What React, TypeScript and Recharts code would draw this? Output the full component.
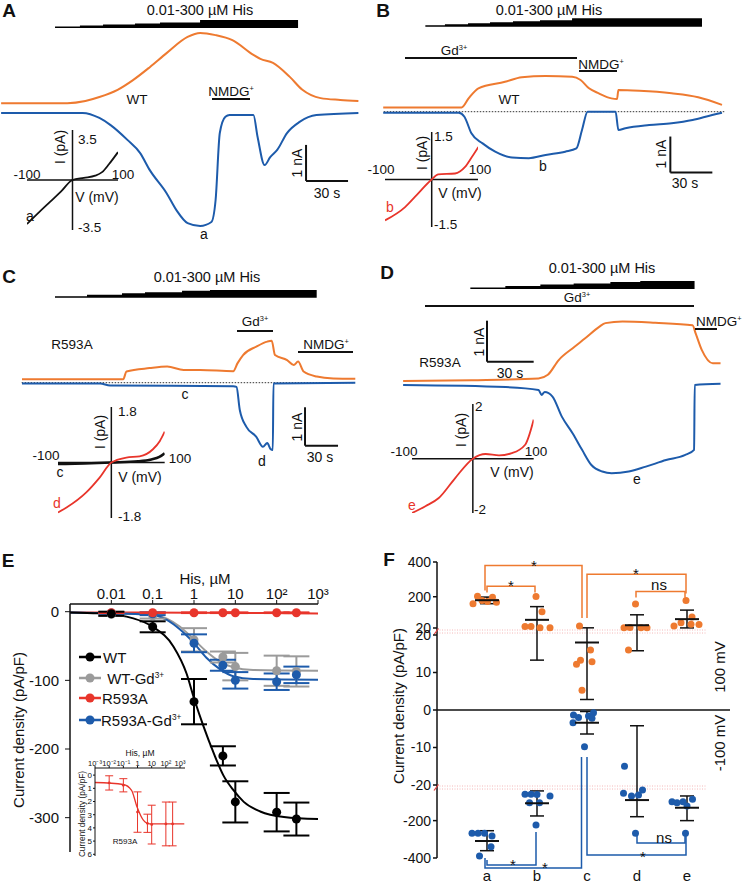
import React from "react";
import {
  ComposedChart,
  LineChart,
  Line,
  Area,
  Scatter,
  XAxis,
  YAxis,
  ReferenceLine,
  ErrorBar,
} from "recharts";

const FONT = '"Liberation Sans", Arial, Helvetica, sans-serif';
const ORANGE = "#ee7a30";
const BLUE = "#1d5bab";
const RED = "#e8352b";
const GRAY = "#9b9b9b";
const INK = "#111";

// ---------- A: WT trace (time s, current nA) ----------
const aOrangeT = [0.8, 48, 61, 71, 84, 95, 107, 119, 134, 143, 154, 166, 181, 186, 195, 207, 216, 229, 243, 256];
const aOrangeI = [0.19, 0.19, 0.25, 0.36, 0.56, 0.83, 1.19, 1.58, 2.03, 2.14, 2.08, 1.94, 1.53, 1.42, 1.31, 0.92, 0.56, 0.33, 0.28, 0.25];
const aBlueT = [0.8, 59, 71, 79, 91, 100, 107, 119, 126, 134, 143, 151, 154, 157, 161, 164, 181, 184, 189, 193, 198, 205, 214, 226, 256];
const aBlueI = [-0.08, -0.08, -0.22, -0.42, -0.83, -1.19, -1.67, -2.31, -2.78, -3.14, -3.22, -3.11, -2.5, -0.64, -0.19, -0.14, -0.14, -0.75, -1.53, -1.31, -1.11, -0.64, -0.33, -0.14, -0.08];
const rampAEdges = [39.3, 57.1, 73.6, 96.4, 114.3, 142.9, 212.9];
const rampALevels = [1.5, 2.5, 3.5, 4.5, 5.5, 8];

// ---------- B: WT + Gd ----------
const bOrangeT = [8, 64, 69, 76, 95, 107, 124, 143, 149, 155, 162, 171, 175, 176, 191, 214, 233, 250];
const bOrangeI = [0.12, 0.12, 0.37, 0.65, 0.83, 0.96, 0.99, 0.97, 0.88, 0.65, 0.51, 0.37, 0.35, 0.6, 0.58, 0.51, 0.4, 0.19];
const bBlueT = [8, 62, 66, 71, 79, 88, 100, 112, 124, 138, 146, 150, 154, 174, 176, 181, 198, 214, 229, 243, 250];
const bBlueI = [-0.03, -0.03, -0.14, -0.6, -0.88, -1.11, -1.27, -1.29, -1.2, -1.11, -1.02, -0.51, 0, 0, -0.51, -0.46, -0.37, -0.32, -0.23, -0.09, -0.03];
const rampBEdges = [38.1, 52.1, 68.6, 84.3, 100.7, 120, 142.9, 235.7];
const rampBLevels = [1.5, 2.5, 3.5, 4.5, 5.5, 6.5, 8.4];

// ---------- C: R593A ----------
const cOrangeT = [20, 112, 115, 136, 152, 167, 182, 212, 216, 221, 233, 243, 247, 250, 261, 267, 271, 276, 288, 303, 323];
const cOrangeI = [0.09, 0.09, 0.29, 0.38, 0.42, 0.33, 0.33, 0.3, 0.51, 0.72, 0.94, 1.07, 1.09, 0.72, 0.59, 0.46, 0.55, 0.29, 0.16, 0.11, 0.1];
const cBlueT = [20, 91, 100, 212, 215, 218, 224, 233, 239, 243, 246, 248, 248.6, 323];
const cBlueI = [-0.02, -0.02, -0.07, -0.09, -0.11, -0.71, -1.15, -1.41, -1.67, -1.57, -1.73, -1.75, -0.02, 0];
const rampCEdges = [50, 79.1, 110.9, 131.8, 165.5, 190.9, 287.9];
const rampCLevels = [1.5, 3, 4.5, 5.5, 7, 7.7];

// ---------- D: R593A + Gd ----------
const dOrangeT = [20, 64, 107, 113, 120, 129, 137, 146, 150, 161, 182, 206, 208, 212, 219, 224];
const dOrangeI = [0.05, 0.07, 0.11, 0.2, 0.56, 0.85, 1.09, 1.37, 1.46, 1.5, 1.47, 1.41, 1.21, 0.8, 0.48, 0.48];
const dBlueT = [20, 86, 107, 109, 111, 116, 122, 129, 135, 141, 148, 154, 165, 176, 189, 201, 207, 207.4, 224];
const dBlueI = [-0.05, -0.1, -0.17, -0.29, -0.22, -0.33, -0.82, -1.23, -1.63, -2, -2.16, -2.2, -2.16, -2.04, -1.88, -1.76, -1.63, -0.05, -0.02];
const rampDEdges = [63.2, 85.7, 108.2, 129.6, 153.2, 172.4, 207.3];
const rampDLevels = [1.5, 3, 4.5, 5.5, 7, 8];

// ---------- I-V insets (mV, pA) ----------
const ivAV = [-100, -75, -50, -25, 0, 25, 50, 65, 80, 100];
const ivAI = [-3.08, -2.3, -1.55, -0.8, 0, 0.15, 0.3, 0.55, 1.1, 1.95];
const ivBV = [-100, -57, -36, 0, 14, 50, 71, 86, 100];
const ivBI = [-1.29, -0.87, -0.55, 0, 0.16, 0.19, 0.39, 0.71, 1.03];
const ivCdV = [-100, -84, -47, -22, 0, 28, 53, 78, 91, 100];
const ivCdI = [-1.62, -1.46, -0.97, -0.49, 0, 0.16, 0.2, 0.43, 0.7, 1.0];
const ivCcV = [-100, -50, 0, 50, 75, 90, 100];
const ivCcI = [-0.05, -0.03, 0, 0.04, 0.1, 0.18, 0.3];
const ivDV = [-100, -78, -56, -29, 0, 21, 43, 64, 86, 100];
const ivDI = [-1.99, -1.74, -1.44, -0.71, 0, 0.17, 0.12, 0.2, 0.51, 1.43];

// ---------- E: dose response ----------
const concE = [0.01, 0.1, 1, 5, 10, 100, 300];
const wtMean = [-3, -22, -131, -210, -277, -292, -302];
const wtErr = [3, 8, 33, 14, 30, 28, 24];
const wtGdMean = [-4, -6, -41, -66, -80, -86, -87];
const wtGdErr = [2, 4, 17, 8, 20, 22, 22];
const mutMean = [-1.5, -1.5, -1.5, -1.5, -1.5, -1.5, -1.5];
const mutErr = [0.5, 0.5, 0.5, 0.5, 0.5, 0.5, 0.5];
const mutGdMean = [-2, -3, -46, -78, -100, -102, -92];
const mutGdErr = [1, 2, 13, 8, 12, 12, 12];
const fitX = [0.001, 0.087, 0.22, 0.46, 0.97, 2, 4.3, 8.9, 27, 1000];
const wtFitX = [0.001, 0.005, 0.034, 0.1, 0.32, 0.66, 1, 1.7, 3, 5.1, 9, 16, 40, 150, 1000];
const wtFitY = [-1, -2.4, -9.7, -22, -51, -90, -126, -167, -206, -238, -260, -277, -291, -299, -302];
const wtGdFitY = [-1, -4, -10, -22, -40, -58, -73, -81, -85, -86];
const mutGdFitY = [-1, -4, -12, -26, -45, -67, -84, -94, -98, -99];
const mutFitX = [0.001, 1, 1000];
const mutFitY = [-1, -1.5, -2.5];
const eTicks = [0.01, 0.1, 1, 10, 100, 1000];
const eTickLabels = ["0.01", "0.1", "1", "10", "10²", "10³"];
const eYTicks = [0, -100, -200, -300];

// inset of E (R593A, pA/pF magnitude)
const insetConc = [0.01, 0.1, 1, 5, 10, 100, 300];
const insetMean = [0.59, 0.77, 2.8, 3.65, 3.75, 3.7, 3.7];
const insetErr = [0.54, 0.5, 1.53, 0.69, 1.47, 1.66, 1.66];
const insetFitX = [0.001, 0.1, 0.38, 0.93, 2.5, 7.4, 2000];
const insetFitY = [0.56, 0.71, 1.15, 2.42, 3.39, 3.7, 3.7];
const insetTicks = [0.001, 0.01, 0.1, 1, 10, 100, 1000];
const insetTickLabels = ["10⁻³", "10⁻²", "10⁻¹", "1", "10", "10²", "10³"];
const insetYTicks = [0, 1, 2, 3, 4, 5, 6];

// ---------- F: current density per condition ----------
const catF = ["a", "b", "c", "d", "e"];
const posVals = [
  [159, 203, 178, 172, 197, 168],
  [28, 28, 201, 22, 114, 22],
  [32, 12.2, 13.3, 5.3, 16, 12.9],
  [158, 22, 23, 22, 21, 16],
  [178, 32, 50, 84, 42, 40],
];
const posOffs = [
  [-0.28, -0.19, -0.1, 0.01, 0.11, 0.19],
  [-0.24, -0.12, -0.02, 0.06, 0.1, 0.26],
  [-0.15, -0.21, -0.13, -0.1, 0.07, 0.1],
  [-0.03, -0.26, -0.14, 0.08, 0.2, -0.17],
  [-0.02, -0.26, -0.12, 0.1, 0.08, 0.24],
];
const posMean = [180, 67, 18, 36, 71];
const posLo = [160, 13.3, 2.8, 15.8, 20.5];
const posHi = [198, 143, 21, 96, 123];
const negVals = [
  [-268, -268, -268, -282, -340, -389],
  [-59, -59, -60, -68, -104, -104, -223],
  [-1.3, -2, -3.4, -1.6, -0.7, -2.2, -9.8],
  [-15, -54, -68, -63, -36, -268],
  [-99, -104, -99, -122, -86, -268],
];
const negOffs = [
  [-0.3, -0.18, -0.05, 0.1, 0.08, -0.15],
  [-0.24, -0.12, 0, 0.26, -0.15, 0.05, -0.02],
  [-0.27, -0.17, -0.28, 0.03, 0.13, 0.1, -0.05],
  [-0.25, -0.27, -0.11, 0.03, 0.11, -0.03],
  [-0.3, -0.2, -0.08, 0, 0.11, -0.03],
];
const negMean = [-309, -107, -3.4, -90, -131];
const negLo = [-361, -175, -6.4, -179, -200];
const negHi = [-254, -41, -0.4, -4.2, -68];
const fTickVals = [400, 200, 21, 20, 10, 0, -10, -20, -200, -400];
const fTickLabels = ["400", "200", "20", "20", "10", "0", "-10", "-20", "-200", "-400"];
// brackets: [x1, x2, bar level, leg1 level, leg2 level]
const posBrackets = [
  [0.96, 2.9, 380, 236, 78],
  [1.0, 1.96, 260, 225, 225],
  [3.0, 4.98, 330, 78, 219],
  [3.98, 4.96, 230, 195, 195],
];
const negBrackets = [
  [0.96, 2.89, -453, -400, -12.5],
  [1.0, 1.98, -437, -411, -261],
  [3.0, 4.98, -384, -12.5, -277],
  [4.0, 4.96, -320, -277, -277],
];

// broken axis: 20..400 compressed, -20..20 expanded, -400..-20 compressed
const fTr = (v: number) =>
  v > 20 ? 82 + (v - 20) * 0.1737 : v >= -20 ? v * 3.75 : -77 + (v + 20) * 0.1868;

const zip = (xs: number[], ys: number[]) => xs.map((x, i) => ({ x, y: ys[i] }));
const steps = (edges: number[], levels: number[]) => [
  ...levels.map((l, i) => ({ x: edges[i], y: l })),
  { x: edges[edges.length - 1], y: levels[levels.length - 1] },
];

const T = ({ x, y, s = 14, c = INK, r = 0, w = "normal", a = "center", children }: any) => (
  <div
    style={{
      position: "absolute",
      left: x,
      top: y,
      transform: `translate(${a === "center" ? "-50%" : a === "left" ? "0" : "-100%"}, -50%) rotate(${r}deg)`,
      fontSize: s,
      color: c,
      fontWeight: w,
      whiteSpace: "nowrap",
      lineHeight: 1,
      fontFamily: FONT,
    }}
  >
    {children}
  </div>
);

const Sup = ({ children }: any) => (
  <sup style={{ fontSize: "0.55em", verticalAlign: "0.7em" }}>{children}</sup>
);

const HBar = ({ x1, x2, y }: any) => (
  <div style={{ position: "absolute", left: x1, top: y - 1, width: x2 - x1, height: 2, background: INK }} />
);

const gA = { left: 0, top: 0, w: 362, h: 250, pxS: 1.4, pxA: 36, zeroY: 110, rampY: 28 };
const gB = { left: 372, top: 0, w: 373, h: 250, pxS: 1.4, pxA: 36, zeroY: 111.7, rampY: 26.7 };
const gC = { left: 0, top: 255, w: 362, h: 230, pxS: 1.1, pxA: 38.4, zeroY: 127.7, rampY: 42.7 };
const gD = { left: 372, top: 255, w: 373, h: 230, pxS: 1.556, pxA: 41, zeroY: 128, rampY: 34 };

function Trace({ g, orange, blue, ramp, dotted, sb }: any) {
  const tMax = g.w / g.pxS;
  const iTop = g.zeroY / g.pxA;
  const iBot = -(g.h - g.zeroY) / g.pxA;
  return (
    <div style={{ position: "absolute", left: g.left, top: g.top }}>
      <ComposedChart width={g.w} height={g.h} margin={{ top: 0, right: 0, bottom: 0, left: 0 }}>
        <XAxis type="number" dataKey="x" domain={[0, tMax]} hide allowDataOverflow />
        <YAxis yAxisId="i" type="number" domain={[iBot, iTop]} hide allowDataOverflow />
        <YAxis yAxisId="r" type="number" domain={[g.rampY - g.h, g.rampY]} hide allowDataOverflow />
        <Area
          yAxisId="r"
          data={ramp}
          dataKey="y"
          type="stepAfter"
          baseValue={0}
          stroke="none"
          fill="#000"
          fillOpacity={1}
          isAnimationActive={false}
        />
        {dotted && (
          <ReferenceLine
            yAxisId="i"
            segment={[{ x: dotted[0], y: 0 }, { x: dotted[1], y: 0 }]}
            stroke="#333"
            strokeDasharray="1.5 1.5"
            strokeWidth={1}
          />
        )}
        <ReferenceLine yAxisId="i" segment={[{ x: sb[0], y: sb[1] }, { x: sb[0], y: sb[1] + 1 }]} stroke={INK} strokeWidth={2} />
        <ReferenceLine yAxisId="i" segment={[{ x: sb[0], y: sb[1] }, { x: sb[0] + 30, y: sb[1] }]} stroke={INK} strokeWidth={2} />
        <Line yAxisId="i" data={orange} dataKey="y" type="monotone" stroke={ORANGE} strokeWidth={2} dot={false} activeDot={false} isAnimationActive={false} />
        <Line yAxisId="i" data={blue} dataKey="y" type="monotone" stroke={BLUE} strokeWidth={2} dot={false} activeDot={false} isAnimationActive={false} />
      </ComposedChart>
    </div>
  );
}

function IV({ left, top, w, h, imax, curves }: any) {
  return (
    <div style={{ position: "absolute", left, top }}>
      <LineChart width={w} height={h} margin={{ top: 0, right: 0, bottom: 0, left: 0 }}>
        <XAxis type="number" dataKey="x" domain={[-100, 100]} hide allowDataOverflow />
        <YAxis type="number" domain={[-imax, imax]} hide allowDataOverflow />
        <ReferenceLine x={0} stroke={INK} strokeWidth={1.5} />
        <ReferenceLine y={0} stroke={INK} strokeWidth={1.5} />
        {curves.map((c: any, k: number) => (
          <Line
            key={k}
            data={c.data}
            dataKey="y"
            type="monotone"
            stroke={c.color}
            strokeWidth={c.w || 1.8}
            dot={false}
            activeDot={false}
            isAnimationActive={false}
          />
        ))}
      </LineChart>
    </div>
  );
}

const dotShape = (color: string, r: number) => (p: any) => <circle cx={p.cx} cy={p.cy} r={r} fill={color} />;

function PanelE() {
  const series = [
    { mean: wtGdMean, err: wtGdErr, color: GRAY },
    { mean: mutGdMean, err: mutGdErr, color: BLUE },
    { mean: mutMean, err: mutErr, color: RED },
    { mean: wtMean, err: wtErr, color: "#000" },
  ];
  const tick = { fontSize: 15, fill: INK, fontFamily: FONT };
  return (
    <>
      <div style={{ position: "absolute", left: 0, top: 560 }}>
        <ComposedChart width={330} height={292} margin={{ top: 0, right: 12, bottom: 0, left: 0 }}>
          <XAxis
            type="number"
            dataKey="x"
            scale="log"
            domain={[0.001, 1000]}
            orientation="top"
            height={44}
            ticks={eTicks}
            interval={0}
            tickFormatter={(v: number, i: number) => eTickLabels[i]}
            tick={tick}
            tickSize={4}
            tickMargin={1}
            axisLine={{ stroke: INK, strokeWidth: 1.5 }}
            tickLine={{ stroke: INK }}
            allowDataOverflow
          />
          <YAxis
            type="number"
            domain={[-350, 11.2]}
            ticks={eYTicks}
            interval={0}
            width={70}
            tick={tick}
            tickSize={5}
            tickMargin={6}
            axisLine={{ stroke: INK, strokeWidth: 1.5 }}
            tickLine={{ stroke: INK }}
            allowDataOverflow
          />
          <Line data={zip(mutFitX, mutFitY)} dataKey="y" type="monotone" stroke={RED} strokeWidth={2} dot={false} activeDot={false} isAnimationActive={false} />
          <Line data={zip(fitX, wtGdFitY)} dataKey="y" type="monotone" stroke={GRAY} strokeWidth={2} dot={false} activeDot={false} isAnimationActive={false} />
          <Line data={zip(fitX, mutGdFitY)} dataKey="y" type="monotone" stroke={BLUE} strokeWidth={2} dot={false} activeDot={false} isAnimationActive={false} />
          <Line data={zip(wtFitX, wtFitY)} dataKey="y" type="monotone" stroke="#000" strokeWidth={2} dot={false} activeDot={false} isAnimationActive={false} />
          {series.map((s, k) => (
            <Scatter
              key={k}
              data={concE.map((x, i) => ({ x, y: s.mean[i], e: s.err[i] }))}
              dataKey="y"
              shape={dotShape(s.color, 4.5)}
              isAnimationActive={false}
            >
              <ErrorBar dataKey="e" direction="y" width={13} stroke={s.color} strokeWidth={2} />
            </Scatter>
          ))}
        </ComposedChart>
      </div>
      <div style={{ position: "absolute", left: 75, top: 756 }}>
        <ComposedChart width={112} height={106} margin={{ top: 0, right: 2, bottom: 6, left: 0 }}>
          <XAxis
            type="number"
            dataKey="x"
            scale="log"
            domain={[0.001, 2240]}
            orientation="top"
            height={12}
            ticks={insetTicks}
            interval={0}
            tickFormatter={(v: number, i: number) => insetTickLabels[i]}
            tick={{ fontSize: 7.5, fill: INK, fontFamily: FONT }}
            tickSize={2}
            tickMargin={0}
            axisLine={{ stroke: INK }}
            tickLine={{ stroke: INK }}
            allowDataOverflow
          />
          <YAxis
            type="number"
            reversed
            domain={[-0.54, 6.13]}
            ticks={insetYTicks}
            interval={0}
            width={20}
            tick={{ fontSize: 8, fill: INK, fontFamily: FONT }}
            tickSize={2}
            tickMargin={1}
            axisLine={{ stroke: INK }}
            tickLine={{ stroke: INK }}
            allowDataOverflow
          />
          <Line data={zip(insetFitX, insetFitY)} dataKey="y" type="monotone" stroke={RED} strokeWidth={1.3} dot={false} activeDot={false} isAnimationActive={false} />
          <Scatter
            data={insetConc.map((x, i) => ({ x, y: insetMean[i], e: insetErr[i] }))}
            dataKey="y"
            shape={dotShape(RED, 1.4)}
            isAnimationActive={false}
          >
            <ErrorBar dataKey="e" direction="y" width={4} stroke={RED} strokeWidth={1} />
          </Scatter>
        </ComposedChart>
      </div>
      <T x={8} y={560} s={19} w="bold">E</T>
      <T x={205} y={578} s={15}>His, µM</T>
      <T x={18} y={730} s={15} r={-90}>Current density (pA/pF)</T>
      <T x={140} y={753} s={8.5}>His, µM</T>
      <T x={82} y={814} s={8.3} r={-90}>Current density (pA/pF)</T>
      <T x={125} y={842} s={8}>R593A</T>
      {[
        { name: "WT", sup: "", c: "#000", tx: 103, y: 657 },
        { name: " WT-Gd", sup: "3+", c: GRAY, tx: 103, y: 678 },
        { name: "R593A", sup: "", c: RED, tx: 102, y: 698 },
        { name: "R593A-Gd", sup: "3+", c: BLUE, tx: 101, y: 720 },
      ].map((l) => (
        <React.Fragment key={l.name}>
          <svg style={{ position: "absolute", left: 79, top: l.y - 6 }} width={22} height={12}>
            <line x1={0} x2={22} y1={6} y2={6} stroke={l.c} strokeWidth={2.5} />
            <circle cx={11} cy={6} r={4.5} fill={l.c} />
          </svg>
          <T x={l.tx} y={l.y} s={15} a="left">
            <span style={{ whiteSpace: "pre" }}>{l.name}</span>
            {l.sup && <Sup>{l.sup}</Sup>}
          </T>
        </React.Fragment>
      ))}
    </>
  );
}

function PanelF() {
  const dots = (vals: number[][], offs: number[][]) =>
    vals.flatMap((row, i) => row.map((v, j) => ({ x: i + 1 + offs[i][j], y: fTr(v) })));
  const means = (m: number[], lo: number[], hi: number[]) =>
    m.map((v, i) => ({ x: i + 1, y: fTr(v), e: [fTr(v) - fTr(lo[i]), fTr(hi[i]) - fTr(v)] }));
  const bracket = (b: number[]) => [
    { x: b[0], y: fTr(b[3]) },
    { x: b[0], y: fTr(b[2]) },
    { x: b[1], y: fTr(b[2]) },
    { x: b[1], y: fTr(b[4]) },
  ];
  const meanShape = (p: any) => (
    <line x1={p.cx - 12} x2={p.cx + 12} y1={p.cy} y2={p.cy} stroke={INK} strokeWidth={2} />
  );
  const tickPos = fTickVals.map((v, i) => (i === 2 ? fTr(v) - 0.17 : fTr(v)));
  const breakLevels = [77, 80, -76, -79];
  return (
    <>
      <div style={{ position: "absolute", left: 392, top: 548 }}>
        <ComposedChart width={353} height={336} margin={{ top: 10, right: 8, bottom: 0, left: 0 }}>
          <XAxis
            type="number"
            dataKey="x"
            domain={[0, 6]}
            ticks={[1, 2, 3, 4, 5]}
            interval={0}
            tickFormatter={(v: number) => catF[v - 1]}
            axisLine={false}
            tickLine={false}
            height={12}
            tickMargin={0}
            tick={{ fontSize: 15, fill: INK, fontFamily: FONT, dy: -8 }}
            allowDataOverflow
          />
          <YAxis
            type="number"
            domain={[-162, 152]}
            ticks={tickPos}
            interval={0}
            tickFormatter={(v: number, i: number) => fTickLabels[i]}
            width={45}
            axisLine={false}
            tickLine={{ stroke: INK, strokeWidth: 1.5 }}
            tickSize={4}
            tickMargin={2}
            tick={{ fontSize: 14, fill: INK, fontFamily: FONT }}
            allowDataOverflow
          />
          {breakLevels.map((b) => (
            <ReferenceLine
              key={b}
              segment={[{ x: 0, y: b }, { x: 5.4, y: b }]}
              stroke="#f4b8b8"
              strokeDasharray="1 1.5"
              strokeWidth={1}
            />
          ))}
          <ReferenceLine segment={[{ x: 0, y: fTr(-400) }, { x: 0, y: fTr(400) }]} stroke={INK} strokeWidth={1.5} />
          <ReferenceLine segment={[{ x: 0, y: 0 }, { x: 5.86, y: 0 }]} stroke={INK} strokeWidth={1.5} />
          {[78.5, -77.5].map((b) => (
            <ReferenceLine
              key={b}
              segment={[{ x: -0.06, y: b - 3 }, { x: 0.03, y: b + 3 }]}
              stroke="#e04040"
              strokeWidth={1.2}
              ifOverflow="visible"
            />
          ))}
          {posBrackets.map((b, k) => (
            <Line key={"p" + k} data={bracket(b)} dataKey="y" type="linear" stroke={ORANGE} strokeWidth={1.5} dot={false} activeDot={false} isAnimationActive={false} />
          ))}
          {negBrackets.map((b, k) => (
            <Line key={"n" + k} data={bracket(b)} dataKey="y" type="linear" stroke={BLUE} strokeWidth={1.5} dot={false} activeDot={false} isAnimationActive={false} />
          ))}
          <Scatter data={dots(posVals, posOffs)} dataKey="y" shape={dotShape(ORANGE, 3.5)} isAnimationActive={false} />
          <Scatter data={dots(negVals, negOffs)} dataKey="y" shape={dotShape(BLUE, 3.5)} isAnimationActive={false} />
          <Scatter data={means(posMean, posLo, posHi)} dataKey="y" shape={meanShape} isAnimationActive={false}>
            <ErrorBar dataKey="e" direction="y" width={7} stroke={INK} strokeWidth={1.5} />
          </Scatter>
          <Scatter data={means(negMean, negLo, negHi)} dataKey="y" shape={meanShape} isAnimationActive={false}>
            <ErrorBar dataKey="e" direction="y" width={7} stroke={INK} strokeWidth={1.5} />
          </Scatter>
        </ComposedChart>
      </div>
      <T x={389} y={559} s={19} w="bold">F</T>
      <T x={398} y={706} s={15} r={-90}>Current density (pA/pF)</T>
      <T x={719} y={667} s={15} r={-90}>100 mV</T>
      <T x={719} y={743} s={15} r={-90}>-100 mV</T>
      <T x={534} y={565} s={15}>*</T>
      <T x={511} y={585} s={15}>*</T>
      <T x={636} y={573} s={15}>*</T>
      <T x={659} y={584} s={15}>ns</T>
      <T x={513} y={864} s={15}>*</T>
      <T x={545} y={867} s={15}>*</T>
      <T x={643} y={856} s={15}>*</T>
      <T x={664} y={837} s={15}>ns</T>
    </>
  );
}

export default function App() {
  return (
    <div
      style={{
        position: "absolute",
        left: 0,
        top: 0,
        width: 745,
        height: 884,
        background: "#fff",
        overflow: "hidden",
        fontFamily: FONT,
        color: INK,
      }}
    >
      <Trace g={gA} orange={zip(aOrangeT, aOrangeI)} blue={zip(aBlueT, aBlueI)} ramp={steps(rampAEdges, rampALevels)} dotted={[0, 258.6]} sb={[218.6, -1.97]} />
      <Trace g={gB} orange={zip(bOrangeT, bOrangeI)} blue={zip(bBlueT, bBlueI)} ramp={steps(rampBEdges, rampBLevels)} dotted={[8.4, 252]} sb={[213.1, -1.69]} />
      <Trace g={gC} orange={zip(cOrangeT, cOrangeI)} blue={zip(cBlueT, cBlueI)} ramp={steps(rampCEdges, rampCLevels)} dotted={[19.7, 322.7]} sb={[277.3, -1.64]} />
      <Trace g={gD} orange={zip(dOrangeT, dOrangeI)} blue={zip(dBlueT, dBlueI)} ramp={steps(rampDEdges, rampDLevels)} sb={[73.9, 0.52]} />

      <IV left={27} top={130} w={91} h={100} imax={3.5} curves={[{ data: zip(ivAV, ivAI), color: INK }]} />
      <IV left={385} top={131.7} w={93.4} h={95} imax={1.5} curves={[{ data: zip(ivBV, ivBI), color: RED }]} />
      <IV
        left={58.3}
        top={407.3}
        w={106.7}
        h={111}
        imax={1.8}
        curves={[
          { data: zip(ivCcV, ivCcI), color: INK, w: 2.6 },
          { data: zip(ivCdV, ivCdI), color: RED },
        ]}
      />
      <IV left={412} top={404} w={121.7} h={109.3} imax={2} curves={[{ data: zip(ivDV, ivDI), color: RED }]} />

      {/* panel A labels */}
      <T x={9} y={10} s={19} w="bold">A</T>
      <T x={200} y={10} s={14.5}>0.01-300 µM His</T>
      <T x={137} y={100} s={13.5}>WT</T>
      <T x={231} y={92} s={13.5}>NMDG<Sup>+</Sup></T>
      <HBar x1={212} x2={250} y={99} />
      <T x={204} y={234} s={14}>a</T>
      <T x={297} y={163} s={14} r={-90}>1 nA</T>
      <T x={327} y={193} s={14}>30 s</T>
      <T x={78} y={140} s={13.5} a="left">3.5</T>
      <T x={78} y={228} s={13.5} a="left">-3.5</T>
      <T x={27} y={175} s={13.5}>-100</T>
      <T x={123} y={175} s={13.5}>100</T>
      <T x={60} y={147} s={14} r={-90}>I (pA)</T>
      <T x={97} y={197} s={14}>V (mV)</T>
      <T x={30} y={216} s={14}>a</T>

      {/* panel B labels */}
      <T x={383} y={10} s={19} w="bold">B</T>
      <T x={549} y={10} s={14.5}>0.01-300 µM His</T>
      <T x={454} y={51} s={13.5}>Gd<Sup>3+</Sup></T>
      <HBar x1={405} x2={577} y={58} />
      <T x={601} y={65} s={13.5}>NMDG<Sup>+</Sup></T>
      <HBar x1={579} x2={617} y={71} />
      <T x={509} y={100} s={13.5}>WT</T>
      <T x={543} y={166} s={14}>b</T>
      <T x={661} y={154} s={14} r={-90}>1 nA</T>
      <T x={685} y={183} s={14}>30 s</T>
      <T x={434} y={137} s={13.5} a="left">1.5</T>
      <T x={434} y={225} s={13.5} a="left">-1.5</T>
      <T x={381} y={170} s={13.5}>-100</T>
      <T x={480} y={170} s={13.5}>100</T>
      <T x={422} y={153} s={14} r={-90}>I (pA)</T>
      <T x={460} y={193} s={14}>V (mV)</T>
      <T x={390} y={207} s={14} c={RED}>b</T>

      {/* panel C labels */}
      <T x={9} y={276} s={19} w="bold">C</T>
      <T x={207} y={277} s={14.5}>0.01-300 µM His</T>
      <T x={72} y={345} s={13.5}>R593A</T>
      <T x={255} y={322} s={13.5}>Gd<Sup>3+</Sup></T>
      <HBar x1={237} x2={273} y={331} />
      <T x={326} y={345} s={13.5}>NMDG<Sup>+</Sup></T>
      <HBar x1={298} x2={353} y={352} />
      <T x={185} y={394} s={14}>c</T>
      <T x={262} y={461} s={14}>d</T>
      <T x={297} y={427} s={14} r={-90}>1 nA</T>
      <T x={320} y={457} s={14}>30 s</T>
      <T x={118} y={412} s={13.5} a="left">1.8</T>
      <T x={118} y={517} s={13.5} a="left">-1.8</T>
      <T x={46} y={456} s={13.5}>-100</T>
      <T x={180} y={459} s={13.5}>100</T>
      <T x={100} y={432} s={14} r={-90}>I (pA)</T>
      <T x={140} y={477} s={14}>V (mV)</T>
      <T x={60} y={472} s={14}>c</T>
      <T x={57} y={503} s={14} c={RED}>d</T>

      {/* panel D labels */}
      <T x={387} y={272} s={19} w="bold">D</T>
      <T x={602} y={268} s={14.5}>0.01-300 µM His</T>
      <T x={577} y={298} s={13.5}>Gd<Sup>3+</Sup></T>
      <HBar x1={425} x2={694} y={306} />
      <T x={696} y={322} s={13.5} a="left">NMDG<Sup>+</Sup></T>
      <HBar x1={695} x2={717} y={329} />
      <T x={440} y={363} s={13.5}>R593A</T>
      <T x={637} y={479} s={14}>e</T>
      <T x={479} y={342} s={14} r={-90}>1 nA</T>
      <T x={510} y={373} s={14}>30 s</T>
      <T x={475} y={407} s={13.5} a="left">2</T>
      <T x={474} y={510} s={13.5} a="left">-2</T>
      <T x={404} y={452} s={13.5}>-100</T>
      <T x={536} y={452} s={13.5}>100</T>
      <T x={461} y={430} s={14} r={-90}>I (pA)</T>
      <T x={512} y={472} s={14}>V (mV)</T>
      <T x={412} y={505} s={14} c={RED}>e</T>

      <PanelE />
      <PanelF />
    </div>
  );
}
